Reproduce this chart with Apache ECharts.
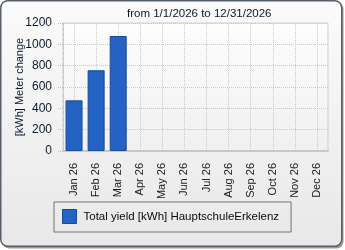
<!DOCTYPE html>
<html><head><meta charset="utf-8">
<script src="https://cdn.jsdelivr.net/npm/echarts@6/dist/echarts.min.js"></script>
<style>html,body{margin:0;padding:0;background:#fff}#c{width:345px;height:250px}</style>
</head><body><div id="c"></div>
<script>
const categories = ['Jan 26','Feb 26','Mar 26','Apr 26','May 26','Jun 26','Jul 26','Aug 26','Sep 26','Oct 26','Nov 26','Dec 26'];
const values = [475, 757, 1078, null, null, null, null, null, null, null, null, null];
const yTicks = [0, 200, 400, 600, 800, 1000, 1200];
const seriesName = 'Total yield [kWh] HauptschuleErkelenz';
const titleText = 'from 1/1/2026 to 12/31/2026';
const yName = '[kWh] Meter change';

const font = 'Liberation Sans';
const chart = echarts.init(document.getElementById('c'), null, {renderer:'canvas'});
chart.setOption({
  animation:false,
  graphic:[
    {type:'rect', z:-10, shape:{x:2.5,y:2.5,width:341,height:246,r:7}, style:{fill:'#9a9a9a'}},
    {type:'rect', z:-9, shape:{x:0.75,y:0.75,width:341,height:245.5,r:7},
     style:{fill:new echarts.graphic.LinearGradient(0,0,0,1,[{offset:0,color:'#fbfbfb'},{offset:1,color:'#e8e8e8'}]), stroke:'#56606a', lineWidth:1.5}}
  ],
  title:{text:titleText, left:122, top:3, textStyle:{fontFamily:font, fontSize:11.5, fontWeight:'normal', color:'#0a1830'}},
  grid:{left:63, right:17, top:23, bottom:99, outerBoundsMode:'none', containLabel:false, show:true, borderColor:'#cfcfcf', borderWidth:1,
    backgroundColor:new echarts.graphic.LinearGradient(0,0,0,1,[{offset:0,color:'#fdfdfd'},{offset:1,color:'#f0f0f0'}])},
  legend:{left:54, top:202, width:237, height:30, padding:[7,12,8,8], borderColor:'#6a7480', borderWidth:1,
    itemWidth:14, itemHeight:14, icon:'rect', itemGap:0,
    textStyle:{fontFamily:font, fontSize:11.5, color:'#0a0a0a', padding:[0,0,0,2]},
    data:[{name:seriesName, itemStyle:{color:'#2462c4', borderColor:'#1a4a98', borderWidth:1}}]},
  xAxis:{type:'category', data:categories, boundaryGap:true,
    axisLine:{lineStyle:{color:'#c8c8c8', width:2}},
    axisTick:{alignWithLabel:true, length:6, lineStyle:{color:'#bdbdbd', type:'dotted'}},
    splitLine:{show:false},
    axisLabel:{rotate:90, fontFamily:font, fontSize:11, color:'#1a1a1a', margin:12, interval:0}},
  yAxis:{type:'value', min:0, max:1200, interval:200, name:yName, nameLocation:'middle', nameGap:38, nameMoveOverlap:false,
    nameTextStyle:{fontFamily:font, fontSize:11, color:'#0a1830'},
    axisLine:{show:true, lineStyle:{color:'#c4c4c4', type:'dashed'}},
    axisTick:{show:true, length:5, lineStyle:{color:'#bdbdbd', type:'dotted'}},
    splitLine:{lineStyle:{color:'#c8c8c8', type:'dotted'}},
    axisLabel:{fontFamily:font, fontSize:12, color:'#0a1830', margin:11,
      formatter:v=>yTicks.includes(v)?String(v):''}},
  series:[{type:'bar', name:seriesName, data:values, barWidth:17, z:3,
    itemStyle:{color:'#2462c4', borderColor:'#1a4a98', borderWidth:1},
    markLine:{silent:true, symbol:'none', label:{show:false}, z:1,
      lineStyle:{color:'#c8c8c8', type:'dotted', width:1},
      data:categories.map(c=>({xAxis:c}))}}]
});
</script></body></html>
